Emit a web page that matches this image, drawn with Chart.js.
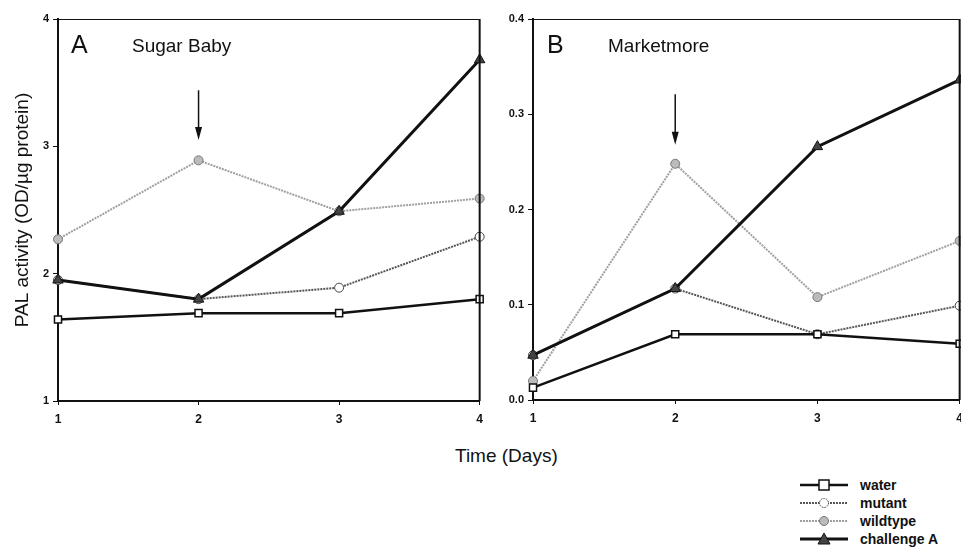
<!DOCTYPE html>
<html>
<head>
<meta charset="utf-8">
<script src="https://cdn.jsdelivr.net/npm/chart.js@4.4.1/dist/chart.umd.min.js"></script>
<style>
  body { margin: 0; background: #fff; overflow: hidden; width: 961px; height: 547px; position: relative; font-family: "Liberation Sans", Arial, sans-serif; }
  canvas { position: absolute; top: 0; }
  #chartA { left: 0; }
  #chartB { left: 480px; }
  .lbl { position: absolute; color: #111; white-space: nowrap; line-height: 1; }
  .big { font-size: 25px; }
  .name { font-size: 19px; }
  #xtitle { font-size: 19px; left: 455px; top: 446px; }
  #legend { position: absolute; left: 800px; top: 476px; }
  .item { height: 18px; display: flex; align-items: center; }
  .item span { margin-left: 12px; font-size: 14px; font-weight: bold; color: #111; }
</style>
</head>
<body>
<canvas id="chartA" width="490" height="435"></canvas>
<canvas id="chartB" width="490" height="434"></canvas>

<div class="lbl big" style="left:71px; top:32px;">A</div>
<div class="lbl name" style="left:132px; top:36px;">Sugar Baby</div>
<div class="lbl big" style="left:547px; top:32px;">B</div>
<div class="lbl name" style="left:608px; top:36px;">Marketmore</div>
<div class="lbl" id="xtitle">Time (Days)</div>

<div id="legend">
  <div class="item"><svg width="48" height="14"><line x1="0" y1="7" x2="48" y2="7" stroke="#111" stroke-width="2.5"/><rect x="19" y="2" width="10" height="10" fill="#fff" stroke="#111" stroke-width="1.5"/></svg><span>water</span></div>
  <div class="item"><svg width="48" height="14"><line x1="0" y1="7" x2="48" y2="7" stroke="#555" stroke-width="2" stroke-dasharray="2,1"/><circle cx="24" cy="7" r="4.5" fill="#fff" stroke="#444" stroke-width="1" stroke-dasharray="1.5,1"/></svg><span>mutant</span></div>
  <div class="item"><svg width="48" height="14"><line x1="0" y1="7" x2="48" y2="7" stroke="#a0a0a0" stroke-width="2" stroke-dasharray="2,1"/><circle cx="24" cy="7" r="4.5" fill="#bbb" stroke="#777" stroke-width="1"/></svg><span>wildtype</span></div>
  <div class="item"><svg width="48" height="14"><line x1="0" y1="7" x2="48" y2="7" stroke="#111" stroke-width="3"/><polygon points="24,1 30,12 18,12" fill="#444" stroke="#111" stroke-width="1"/></svg><span>challenge A</span></div>
</div>

<script>
var days = ['1', '2', '3', '4'];

var sugarWater = [1.64, 1.69, 1.69, 1.80];
var sugarMutant = [1.95, 1.80, 1.89, 2.29];
var sugarWildtype = [2.27, 2.89, 2.49, 2.59];
var sugarChallenge = [1.95, 1.80, 2.49, 3.68];
var sugarTicks = [1, 2, 3, 4];

var marketWater = [0.013, 0.069, 0.069, 0.059];
var marketMutant = [0.047, 0.117, 0.069, 0.099];
var marketWildtype = [0.02, 0.248, 0.108, 0.167];
var marketChallenge = [0.047, 0.117, 0.266, 0.336];
var marketTicks = [0, 0.1, 0.2, 0.3, 0.4];

// arrow marking day 2: [top, tip] in data units
var arrowDay = 1;
var sugarArrow = [3.44, 3.05];
var marketArrow = [0.321, 0.268];

function makeSets(water, mutant, wildtype, challenge) {
  return [
    {
      label: 'challenge A', data: challenge, order: 0,
      borderColor: '#111', borderWidth: 3,
      pointStyle: 'triangle', pointRadius: 6,
      pointBackgroundColor: '#444', pointBorderColor: '#111', pointBorderWidth: 1
    },
    {
      label: 'water', data: water, order: 1,
      borderColor: '#111', borderWidth: 2.5,
      pointStyle: 'rect', pointRadius: 5,
      pointBackgroundColor: '#fff', pointBorderColor: '#111', pointBorderWidth: 1.5
    },
    {
      label: 'mutant', data: mutant, order: 2,
      borderColor: '#555', borderWidth: 2, borderDash: [2, 1],
      pointStyle: 'circle', pointRadius: 4.5,
      pointBackgroundColor: '#fff', pointBorderColor: '#444', pointBorderWidth: 1
    },
    {
      label: 'wildtype', data: wildtype, order: 3,
      borderColor: '#a0a0a0', borderWidth: 2, borderDash: [2, 1],
      pointStyle: 'circle', pointRadius: 4.5,
      pointBackgroundColor: '#bbb', pointBorderColor: '#777', pointBorderWidth: 1
    }
  ];
}

// draws top + right frame and the arrow
var framePlugin = {
  id: 'frame',
  afterDatasetsDraw: function(chart, args, opts) {
    var ctx = chart.ctx;
    var a = chart.chartArea;
    ctx.save();
    ctx.strokeStyle = '#111';
    ctx.lineWidth = 1;
    ctx.beginPath();
    ctx.moveTo(a.left, a.top + 0.5);
    ctx.lineTo(a.right, a.top + 0.5);
    ctx.stroke();
    ctx.lineWidth = 2;
    ctx.beginPath();
    ctx.moveTo(a.right, a.top);
    ctx.lineTo(a.right, a.bottom);
    ctx.stroke();

    var x = chart.scales.x.getPixelForValue(arrowDay);
    var y0 = chart.scales.y.getPixelForValue(opts.arrow[0]);
    var y1 = chart.scales.y.getPixelForValue(opts.arrow[1]);
    ctx.lineWidth = 1.5;
    ctx.beginPath();
    ctx.moveTo(x, y0);
    ctx.lineTo(x, y1 - 10);
    ctx.stroke();
    ctx.fillStyle = '#111';
    ctx.beginPath();
    ctx.moveTo(x, y1);
    ctx.lineTo(x - 3.5, y1 - 13);
    ctx.lineTo(x + 3.5, y1 - 13);
    ctx.closePath();
    ctx.fill();
    ctx.restore();
  }
};

function makeChart(id, sets, yMin, yMax, ticks, yWidth, arrow, withTitle, decimals) {
  return new Chart(document.getElementById(id), {
    type: 'line',
    data: { labels: days, datasets: sets },
    plugins: [framePlugin],
    options: {
      responsive: false,
      animation: false,
      layout: { padding: { top: 19, right: 10, left: 0, bottom: 0 } },
      elements: { line: { tension: 0 } },
      plugins: {
        legend: { display: false },
        tooltip: { enabled: false },
        frame: { arrow: arrow }
      },
      scales: {
        x: {
          type: 'category',
          offset: false,
          grid: { drawOnChartArea: false, drawTicks: true, tickLength: 4, color: '#111' },
          border: { display: true, color: '#111', width: 2 },
          ticks: { color: '#111', padding: 7, font: { family: 'Liberation Sans', size: 12, weight: 'bold' }, maxRotation: 0 },
          afterFit: function(scale) { scale.height = 34; }
        },
        y: {
          min: yMin, max: yMax,
          afterBuildTicks: function(scale) {
            scale.ticks = ticks.map(function(v) { return { value: v }; });
          },
          grid: { drawOnChartArea: false, drawTicks: true, tickLength: 5, color: '#111' },
          border: { display: true, color: '#111', width: 2 },
          ticks: {
            color: '#111', padding: 4,
            font: { family: 'Liberation Sans', size: 11, weight: 'bold' },
            callback: function(v) { return Number(v).toFixed(decimals); }
          },
          title: {
            display: withTitle,
            text: 'PAL activity (OD/\u00b5g protein)',
            color: '#111',
            font: { family: 'Liberation Sans', size: 19, lineHeight: 1.2 },
            padding: { top: 11, bottom: 0 }
          },
          afterFit: function(scale) { scale.width = yWidth; }
        }
      }
    }
  });
}

makeChart('chartA', makeSets(sugarWater, sugarMutant, sugarWildtype, sugarChallenge),
  1, 4, sugarTicks, 58, sugarArrow, true, 0);
makeChart('chartB', makeSets(marketWater, marketMutant, marketWildtype, marketChallenge),
  0, 0.4, marketTicks, 53, marketArrow, false, 1);
</script>
</body>
</html>
